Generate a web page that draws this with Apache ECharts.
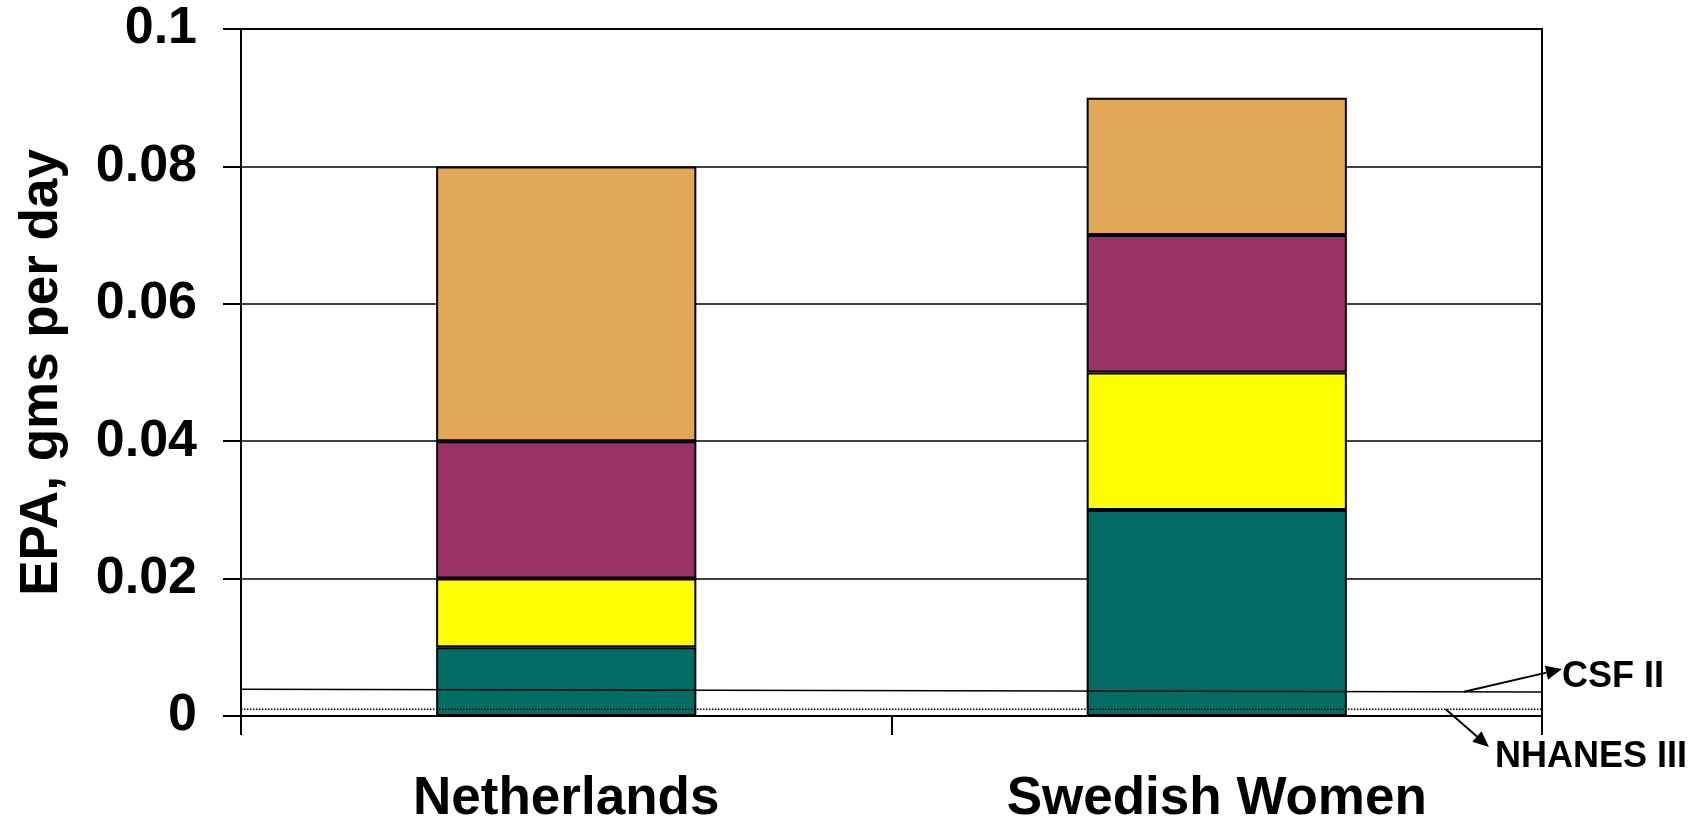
<!DOCTYPE html>
<html>
<head>
<meta charset="utf-8">
<title>EPA intake</title>
<script src="https://cdn.jsdelivr.net/npm/echarts@6/dist/echarts.min.js"></script>
<style>
  html, body { margin: 0; padding: 0; background: #fff; }
  #chart { width: 1697px; height: 820px; }
</style>
</head>
<body>
<div id="chart"></div>
<script>
// categories and stacked parts (bottom to top)
const categories = ['Netherlands', 'Swedish Women']
const tealPart = [0.01, 0.03]
const yellowPart = [0.01, 0.02]
const plumPart = [0.02, 0.02]
const orangePart = [0.04, 0.02]

// reference lines, value at left edge and right edge of the plot
const lineEdges = [0, 1]
const csfII = [0.0039, 0.0035]
const nhanesIII = [0.001, 0.001]

const yTicks = ['0', '0.02', '0.04', '0.06', '0.08', '0.1']

const font = '"Liberation Sans", Arial, sans-serif'

function barSeries(name, data, color) {
  return {
    name: name,
    type: 'bar',
    stack: 'total',
    barWidth: '40%',
    data: data,
    itemStyle: { color: color, borderColor: '#000', borderWidth: 2 },
    z: 2
  }
}

function lineSeries(name, values, lineType) {
  return {
    name: name,
    type: 'line',
    xAxisIndex: 1,
    symbol: 'none',
    data: lineEdges.map((x, i) => [x, values[i]]),
    lineStyle: { color: '#000', width: 1.5, type: lineType },
    z: 5
  }
}

const chart = echarts.init(document.getElementById('chart'))

const option = {
  animation: false,
  textStyle: { fontFamily: font },
  grid: {
    left: 241, right: 155, top: 29, bottom: 104,
    outerBoundsMode: 'none',
    show: true, borderColor: '#000', borderWidth: 2
  },
  xAxis: [
    {
      type: 'category',
      data: categories,
      axisLine: { lineStyle: { color: '#000', width: 2 } },
      axisTick: { show: true, length: 19, lineStyle: { color: '#000', width: 2 } },
      axisLabel: { color: '#000', fontSize: 53, fontWeight: 'bold', margin: 57, fontFamily: font }
    },
    {
      type: 'value',
      min: 0,
      max: 1,
      show: false
    }
  ],
  yAxis: {
    type: 'value',
    min: 0,
    max: 0.1,
    interval: 0.02,
    name: 'EPA, gms per day',
    nameLocation: 'middle',
    nameGap: 172,
    nameTextStyle: { color: '#000', fontSize: 53, fontWeight: 'bold', fontFamily: font },
    axisLine: { show: true, lineStyle: { color: '#000', width: 2 } },
    axisTick: { show: true, length: 18, lineStyle: { color: '#000', width: 2 } },
    axisLabel: {
      color: '#000', fontSize: 52, fontWeight: 'bold', margin: 44, fontFamily: font,
      formatter: (v, i) => yTicks[i]
    },
    splitLine: { show: true, lineStyle: { color: '#000', width: 1.5 } }
  },
  series: [
    barSeries('teal', tealPart, '#036C64'),
    barSeries('yellow', yellowPart, '#FFFF00'),
    barSeries('plum', plumPart, '#993366'),
    barSeries('orange', orangePart, '#E2A857'),
    lineSeries('CSF II', csfII, 'solid'),
    lineSeries('NHANES III', nhanesIII, 'dotted')
  ]
}

chart.setOption(option)

// annotation arrows, starting on the reference lines
function arrow(from, to) {
  const ang = Math.atan2(to[1] - from[1], to[0] - from[0])
  const len = 16, half = 7
  const bx = to[0] - len * Math.cos(ang), by = to[1] - len * Math.sin(ang)
  const nx = -Math.sin(ang) * half, ny = Math.cos(ang) * half
  return [
    { type: 'line', shape: { x1: from[0], y1: from[1], x2: bx, y2: by }, style: { stroke: '#000', lineWidth: 2 }, z: 10 },
    { type: 'polygon', shape: { points: [to, [bx + nx, by + ny], [bx - nx, by - ny]] }, style: { fill: '#000' }, z: 10 }
  ]
}

const csfAt = 0.94
const csfStart = chart.convertToPixel({ xAxisIndex: 1, yAxisIndex: 0 },
  [csfAt, csfII[0] + (csfII[1] - csfII[0]) * csfAt])
const nhStart = chart.convertToPixel({ xAxisIndex: 1, yAxisIndex: 0 }, [0.926, nhanesIII[1]])

const csfText = [1562, 677]
const nhText = [1495, 757]

chart.setOption({
  graphic: [
    ...arrow(csfStart, [csfText[0], csfText[1] - 8]),
    ...arrow(nhStart, [nhText[0] - 6, nhText[1] - 10]),
    {
      type: 'text', x: csfText[0], y: csfText[1], z: 10,
      style: { text: 'CSF II', fill: '#000', font: 'bold 36px ' + font, textVerticalAlign: 'middle' }
    },
    {
      type: 'text', x: nhText[0], y: nhText[1], z: 10,
      style: { text: 'NHANES III', fill: '#000', font: 'bold 36px ' + font, textVerticalAlign: 'middle' }
    }
  ]
})

window.addEventListener('resize', chart.resize)
</script>
</body>
</html>
